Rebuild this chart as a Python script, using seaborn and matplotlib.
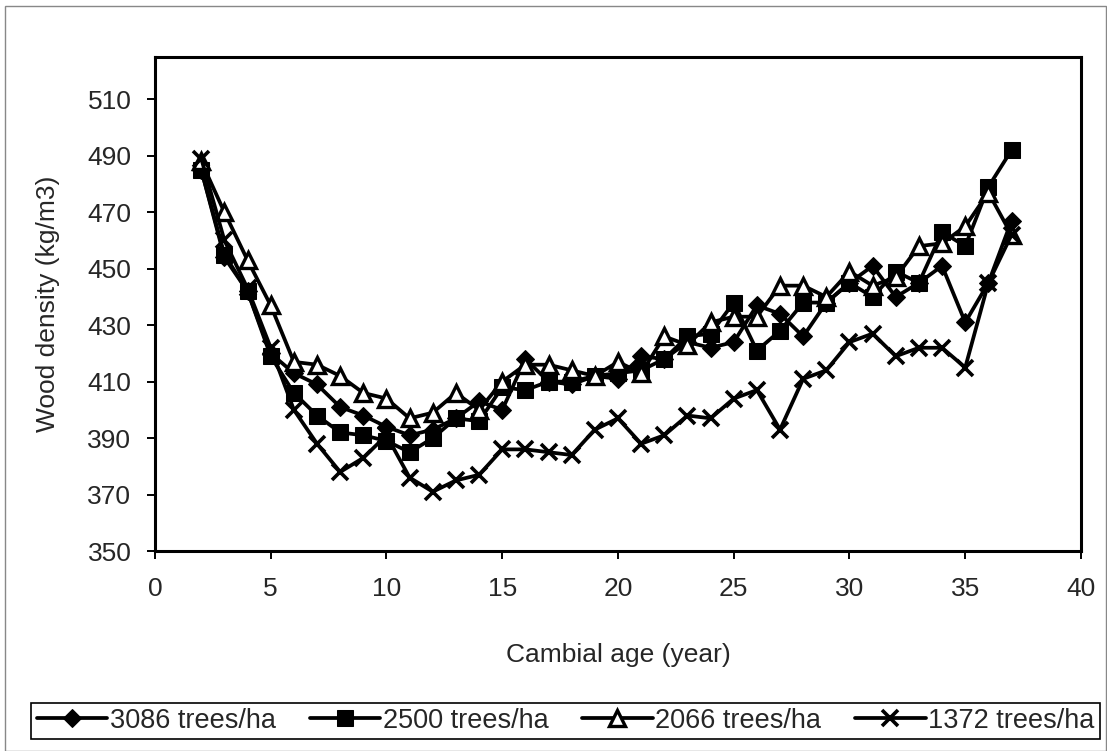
import numpy as np
import pandas as pd
import matplotlib
matplotlib.use("Agg")
import matplotlib.pyplot as plt
from matplotlib.patches import Rectangle
import seaborn as sns

# cambial age (year)
ages = list(range(2, 38))

# wood density (kg/m3) per stocking level
d3086 = [485, 454, 442, 420, 413, 409, 401, 398, 394, 391, 393, 397, 403, 400, 418, 410, 409, 412,
         411, 419, 418, 424, 422, 424, 437, 434, 426, 438, 445, 451, 440, 445, 451, 431, 445, 467]
d2500 = [485, 455, 442, 419, 406, 398, 392, 391, 389, 385, 390, 397, 396, 408, 407, 410, 410, 412,
         413, 414, 418, 426, 427, 438, 421, 428, 438, 438, 445, 440, 449, 445, 463, 458, 479, 492]
d2066 = [488, 470, 453, 437, 417, 416, 412, 406, 404, 397, 399, 406, 400, 410, 416, 416, 414, 412,
         417, 413, 426, 423, 431, 433, 433, 444, 444, 440, 449, 444, 447, 458, 459, 465, 477, 462]
d1372 = [489, 460, 443, 422, 400, 388, 378, 383, 391, 376, 371, 375, 377, 386, 386, 385, 384, 393,
         397, 388, 391, 398, 397, 404, 407, 393, 411, 414, 424, 427, 419, 422, 422, 415, 445, 462]

labels = ["3086 trees/ha", "2500 trees/ha", "2066 trees/ha", "1372 trees/ha"]
series = [d3086, d2500, d2066, d1372]

df = pd.concat([pd.DataFrame({"age": ages, "density": s, "stand": lab})
                for lab, s in zip(labels, series)], ignore_index=True)

sns.set_style("ticks")
plt.rcParams['font.family'] = ['Liberation Sans', 'DejaVu Sans']

fig = plt.figure(figsize=(11.07, 7.51), dpi=100)
ax = fig.add_axes([0.140, 0.2663, 0.8365, 0.6578])

styles = {
    "3086 trees/ha": dict(marker="D", markersize=9.5, markerfacecolor="black", markeredgecolor="black"),
    "2500 trees/ha": dict(marker="s", markersize=11.5, markerfacecolor="black", markeredgecolor="black"),
    "2066 trees/ha": dict(marker="^", markersize=11.5, markerfacecolor="white", markeredgecolor="black",
                          markeredgewidth=2.4),
    "1372 trees/ha": dict(marker="x", markersize=12, markeredgecolor="black", markeredgewidth=2.6),
}

for lab in labels:
    sub = df[df["stand"] == lab]
    sns.lineplot(data=sub, x="age", y="density", ax=ax, color="black", linewidth=2.7,
                 label=lab, **styles[lab])

ax.set_xlim(0, 40)
ax.set_ylim(350, 525)
ax.set_xticks(range(0, 41, 5))
ax.set_yticks(range(350, 511, 20))
ax.tick_params(axis="both", direction="out", length=6, width=1.4, labelsize=19, color="black")
ax.tick_params(axis="y", pad=11)
ax.tick_params(axis="x", pad=13)
for sp in ax.spines.values():
    sp.set_visible(True)
    sp.set_linewidth(2.2)
    sp.set_color("black")

ax.set_xlabel("Cambial age (year)", fontsize=19, labelpad=30)
ax.set_ylabel("Wood density (kg/m3)", fontsize=19, labelpad=20)

ax.legend_.remove()
handles, labs = ax.get_legend_handles_labels()
leg = fig.legend(handles, labs, loc="center", bbox_to_anchor=(0.511, 0.040), ncol=4,
                 fontsize=19.5, frameon=True, fancybox=False, edgecolor="black", framealpha=1,
                 handlelength=2.6, handletextpad=0.1, columnspacing=1.25, borderpad=0.2)
leg.get_frame().set_linewidth(1.2)

# thin outer frame of the chart area
fig.patches.append(Rectangle((5 / 1107, 0.0), 1 - 6 / 1107, 1 - 6 / 751, transform=fig.transFigure,
                             fill=False, edgecolor="#888888", linewidth=1))

fig.savefig("out.png", dpi=100)
